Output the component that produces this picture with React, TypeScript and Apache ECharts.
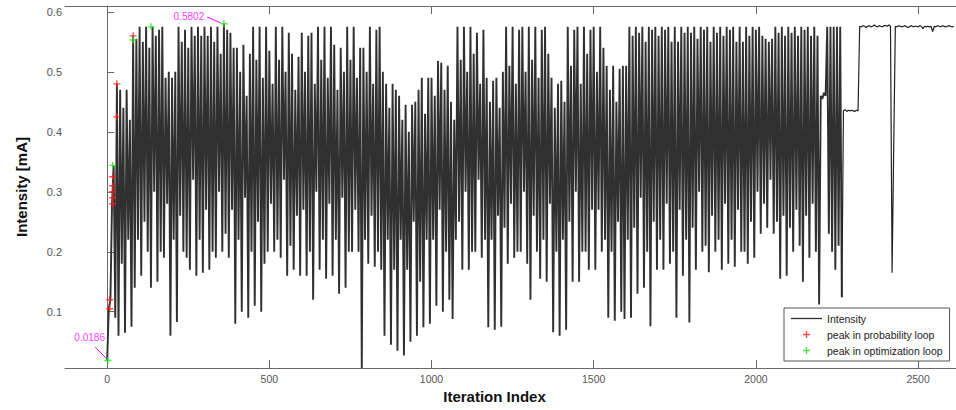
import React, { useEffect, useRef } from "react";
import * as echarts from "echarts";

// ---- data ----
const iterStep = 5; // one sample every 5 iterations
const intensity: number[] = [
  // 0-95
  0.0186, 0.105, 0.12, 0.28, 0.344, 0.09, 0.48, 0.06, 0.47, 0.18, 0.44, 0.065, 0.47, 0.22, 0.42, 0.075, 0.56, 0.14, 0.555, 0.22,
  // 100-195
  0.575, 0.16, 0.55, 0.25, 0.575, 0.2, 0.54, 0.14, 0.575, 0.3, 0.56, 0.15, 0.57, 0.2, 0.575, 0.19, 0.49, 0.28, 0.5, 0.06,
  // 200-295
  0.49, 0.22, 0.5, 0.083, 0.575, 0.26, 0.55, 0.2, 0.57, 0.19, 0.54, 0.17, 0.575, 0.32, 0.56, 0.16, 0.575, 0.22, 0.56, 0.165,
  // 300-395
  0.575, 0.27, 0.56, 0.17, 0.575, 0.2, 0.55, 0.19, 0.575, 0.3, 0.53, 0.2, 0.5802, 0.23, 0.57, 0.19, 0.565, 0.27, 0.54, 0.08,
  // 400-495
  0.54, 0.22, 0.5, 0.1, 0.545, 0.29, 0.46, 0.09, 0.53, 0.2, 0.575, 0.11, 0.52, 0.25, 0.575, 0.1, 0.49, 0.18, 0.575, 0.2,
  // 500-595
  0.535, 0.28, 0.48, 0.2, 0.575, 0.22, 0.52, 0.19, 0.575, 0.32, 0.5, 0.16, 0.565, 0.21, 0.53, 0.17, 0.47, 0.26, 0.525, 0.16,
  // 600-695
  0.565, 0.27, 0.5, 0.16, 0.56, 0.2, 0.565, 0.12, 0.48, 0.3, 0.575, 0.17, 0.52, 0.22, 0.575, 0.155, 0.49, 0.28, 0.575, 0.16,
  // 700-795
  0.545, 0.22, 0.47, 0.13, 0.54, 0.29, 0.5, 0.14, 0.575, 0.2, 0.52, 0.2, 0.575, 0.27, 0.49, 0.2, 0.54, 0.006, 0.54, 0.22,
  // 800-895
  0.5, 0.18, 0.575, 0.26, 0.48, 0.175, 0.57, 0.2, 0.575, 0.17, 0.5, 0.06, 0.48, 0.22, 0.44, 0.045, 0.48, 0.17, 0.47, 0.035,
  // 900-995
  0.46, 0.22, 0.42, 0.027, 0.445, 0.17, 0.4, 0.05, 0.445, 0.25, 0.45, 0.06, 0.47, 0.15, 0.49, 0.074, 0.43, 0.22, 0.49, 0.08,
  // 1000-1095
  0.49, 0.22, 0.46, 0.11, 0.518, 0.27, 0.515, 0.1, 0.47, 0.2, 0.51, 0.12, 0.45, 0.088, 0.42, 0.22, 0.575, 0.25, 0.52, 0.17,
  // 1100-1195
  0.575, 0.3, 0.5, 0.17, 0.575, 0.2, 0.53, 0.2, 0.565, 0.32, 0.48, 0.19, 0.57, 0.22, 0.49, 0.074, 0.45, 0.22, 0.485, 0.07,
  // 1200-1295
  0.49, 0.26, 0.44, 0.075, 0.5, 0.24, 0.575, 0.18, 0.51, 0.28, 0.575, 0.19, 0.48, 0.2, 0.57, 0.2, 0.575, 0.3, 0.5, 0.18,
  // 1300-1395
  0.575, 0.12, 0.52, 0.26, 0.575, 0.2, 0.49, 0.155, 0.57, 0.22, 0.575, 0.15, 0.53, 0.28, 0.49, 0.066, 0.44, 0.2, 0.48, 0.06,
  // 1400-1495
  0.485, 0.22, 0.45, 0.07, 0.575, 0.25, 0.51, 0.15, 0.57, 0.3, 0.575, 0.15, 0.48, 0.2, 0.575, 0.2, 0.53, 0.17, 0.57, 0.27,
  // 1500-1595
  0.575, 0.17, 0.5, 0.27, 0.575, 0.2, 0.54, 0.22, 0.51, 0.09, 0.47, 0.2, 0.51, 0.085, 0.45, 0.25, 0.505, 0.1, 0.51, 0.088,
  // 1600-1695
  0.51, 0.22, 0.575, 0.09, 0.56, 0.24, 0.575, 0.13, 0.565, 0.29, 0.575, 0.14, 0.55, 0.2, 0.575, 0.076, 0.57, 0.25, 0.575, 0.17,
  // 1700-1795
  0.56, 0.22, 0.575, 0.17, 0.57, 0.28, 0.575, 0.18, 0.55, 0.2, 0.575, 0.09, 0.55, 0.27, 0.575, 0.16, 0.565, 0.22, 0.575, 0.082,
  // 1800-1895
  0.565, 0.24, 0.575, 0.17, 0.555, 0.3, 0.575, 0.2, 0.57, 0.21, 0.575, 0.166, 0.55, 0.26, 0.575, 0.2, 0.565, 0.22, 0.575, 0.17,
  // 1900-1995
  0.56, 0.28, 0.575, 0.18, 0.57, 0.22, 0.575, 0.175, 0.55, 0.27, 0.575, 0.2, 0.55, 0.2, 0.575, 0.18, 0.56, 0.25, 0.575, 0.19,
  // 2000-2095
  0.57, 0.3, 0.575, 0.23, 0.56, 0.28, 0.555, 0.24, 0.55, 0.32, 0.555, 0.23, 0.575, 0.25, 0.565, 0.155, 0.575, 0.26, 0.56, 0.16,
  // 2100-2195
  0.575, 0.24, 0.565, 0.2, 0.575, 0.27, 0.56, 0.21, 0.575, 0.15, 0.57, 0.26, 0.575, 0.19, 0.56, 0.28, 0.575, 0.2, 0.56, 0.112,
  // 2200-2295
  0.46, 0.455, 0.465, 0.46, 0.575, 0.23, 0.575, 0.2, 0.575, 0.17, 0.575, 0.21, 0.575, 0.124, 0.435, 0.437, 0.434, 0.436, 0.435, 0.436,
  // 2300-2395
  0.435, 0.434, 0.436, 0.435, 0.576, 0.575, 0.577, 0.576, 0.574, 0.576, 0.577, 0.575, 0.576, 0.578, 0.576, 0.575, 0.577, 0.576, 0.575, 0.577,
  // 2400-2495
  0.577, 0.576, 0.578, 0.576, 0.165, 0.376, 0.576, 0.575, 0.577, 0.576, 0.575, 0.576, 0.577, 0.575, 0.574, 0.576, 0.577, 0.575, 0.576, 0.576,
  // 2500-2610
  0.575, 0.577, 0.576, 0.572, 0.576, 0.575, 0.576, 0.575, 0.576, 0.567, 0.576, 0.575, 0.577, 0.576, 0.575, 0.577, 0.576, 0.575, 0.576, 0.577, 0.576, 0.575, 0.576,
];
// index where the oscillating part ends (iteration 2265)
const oscillationEndIndex = 453;

const xTicks = [0, 500, 1000, 1500, 2000, 2500];
const yTicks = [0.1, 0.2, 0.3, 0.4, 0.5, 0.6];

const probPeakIter = [8, 8, 17, 17, 17, 17, 17, 30, 30, 80];
const probPeakValue = [0.105, 0.12, 0.28, 0.29, 0.3, 0.31, 0.325, 0.425, 0.48, 0.56];
const optPeakIter = [2, 17, 80, 135, 360];
const optPeakValue = [0.0186, 0.344, 0.553, 0.575, 0.5802];

const noteText = ["0.5802", "0.0186"];
const noteIter = [252, -54];
const noteValue = [0.5931, 0.0571];
const arrowFromIter = [308, -37];
const arrowFromValue = [0.5915, 0.0412];
const arrowToIter = [350, -4];
const arrowToValue = [0.5815, 0.0229];

const FONT = "'Liberation Sans', Arial, Helvetica, sans-serif";
const PLUS = "path://M4,0H6V4H10V6H6V10H4V6H0V4H4Z";
const LINE_ICON = "path://M0,0H31V1.3H0Z";

export default function App() {
  const ref = useRef<HTMLDivElement>(null);

  useEffect(() => {
    if (!ref.current) return;
    const chart = echarts.init(ref.current, null, { renderer: "svg" });

    const lineData = intensity.map((v, i) => [i * iterStep, v]);
    const headData = lineData.slice(0, oscillationEndIndex + 1);
    const tailData = lineData.slice(oscillationEndIndex);
    const probData = probPeakIter.map((x, i) => [x, probPeakValue[i]]);
    const optData = optPeakIter.map((x, i) => [x, optPeakValue[i]]);
    const noteData = noteText.map((t, i) => [noteIter[i], noteValue[i], t]);
    const arrowData = noteText.map((_, i) => [
      { coord: [arrowFromIter[i], arrowFromValue[i]] },
      { coord: [arrowToIter[i], arrowToValue[i]] },
    ]);

    const axisColor = "#6a6a6a";

    chart.setOption({
      animation: false,
      backgroundColor: "#ffffff",
      grid: { left: 65, top: 6, right: 0, bottom: 42, containLabel: false },
      legend: {
        orient: "vertical",
        left: 784,
        top: 308,
        padding: [5, 7, 5, 7],
        itemGap: 5,
        itemWidth: 31,
        itemHeight: 7,
        borderColor: "#555",
        borderWidth: 1,
        backgroundColor: "#fff",
        textStyle: { fontSize: 10.5, color: "#222", fontFamily: FONT },
        data: [
          { name: "Intensity", icon: LINE_ICON, itemStyle: { color: "#333" } },
          { name: "peak in probability loop", icon: PLUS },
          { name: "peak in optimization loop", icon: PLUS },
        ],
      },
      xAxis: [
        {
          type: "value",
          min: -130,
          max: 2617,
          position: "bottom",
          name: "Iteration Index",
          nameLocation: "middle",
          nameGap: 20,
          nameTextStyle: {
            fontSize: 15,
            fontWeight: "bold",
            color: "#111",
            fontFamily: FONT,
            padding: [0, 32, 0, 0],
          },
          splitLine: { show: false },
          axisLine: { show: true, lineStyle: { color: axisColor, width: 1 } },
          axisTick: {
            show: true,
            inside: true,
            length: 8,
            customValues: xTicks,
            lineStyle: { color: axisColor },
          },
          axisLabel: {
            show: true,
            customValues: xTicks,
            fontSize: 10.5,
            color: "#555",
            fontFamily: FONT,
            margin: 5,
            formatter: (v: number) => String(Math.round(v)),
          },
        },
        {
          type: "value",
          min: -130,
          max: 2617,
          position: "top",
          splitLine: { show: false },
          axisLine: { show: true, lineStyle: { color: axisColor, width: 1 } },
          axisTick: {
            show: true,
            inside: true,
            length: 8,
            customValues: xTicks,
            lineStyle: { color: axisColor },
          },
          axisLabel: { show: false },
        },
      ],
      yAxis: {
        type: "value",
        min: 0.0062,
        max: 0.6098,
        name: "Intensity [mA]",
        nameLocation: "middle",
        nameGap: 36,
        nameRotate: 90,
        nameTextStyle: { fontSize: 15, fontWeight: "bold", color: "#111", fontFamily: FONT },
        splitLine: { show: false },
        axisLine: { show: true, lineStyle: { color: axisColor, width: 1 } },
        axisTick: {
          show: true,
          inside: true,
          length: 7,
          customValues: yTicks,
          lineStyle: { color: axisColor },
        },
        axisLabel: {
          show: true,
          customValues: yTicks,
          fontSize: 11,
          color: "#555",
          fontFamily: FONT,
          margin: 3,
          formatter: (v: number) => v.toFixed(1),
        },
      },
      series: [
        {
          name: "Intensity",
          type: "line",
          data: headData,
          symbol: "none",
          showSymbol: false,
          lineStyle: { color: "#303030", width: 1.9 },
          itemStyle: { color: "#333" },
          z: 2,
          silent: true,
        },
        {
          name: "Intensity",
          type: "line",
          data: tailData,
          symbol: "none",
          showSymbol: false,
          lineStyle: { color: "#222", width: 1.2 },
          itemStyle: { color: "#333" },
          z: 2,
          silent: true,
        },
        {
          name: "peak in probability loop",
          type: "scatter",
          data: probData,
          symbol: PLUS,
          symbolSize: 7,
          itemStyle: { color: "#ff1a1a" },
          z: 5,
        },
        {
          name: "peak in optimization loop",
          type: "scatter",
          data: optData,
          symbol: PLUS,
          symbolSize: 7,
          itemStyle: { color: "#22e622" },
          z: 6,
        },
        {
          name: "notes",
          type: "scatter",
          data: noteData,
          symbolSize: 0,
          silent: true,
          z: 7,
          label: {
            show: true,
            position: "inside",
            formatter: (p: any) => p.data[2],
            color: "#ff00ff",
            fontSize: 10,
            fontFamily: FONT,
          },
          markLine: {
            silent: true,
            symbol: ["none", "arrow"],
            symbolSize: [0, 6],
            label: { show: false },
            lineStyle: { color: "#ff00ff", width: 1, type: "solid" },
            data: arrowData,
          },
        },
      ],
    });

    return () => chart.dispose();
  }, []);

  return (
    <div
      ref={ref}
      style={{ position: "fixed", left: 0, top: 0, width: 956, height: 410, background: "#fff" }}
    />
  );
}
